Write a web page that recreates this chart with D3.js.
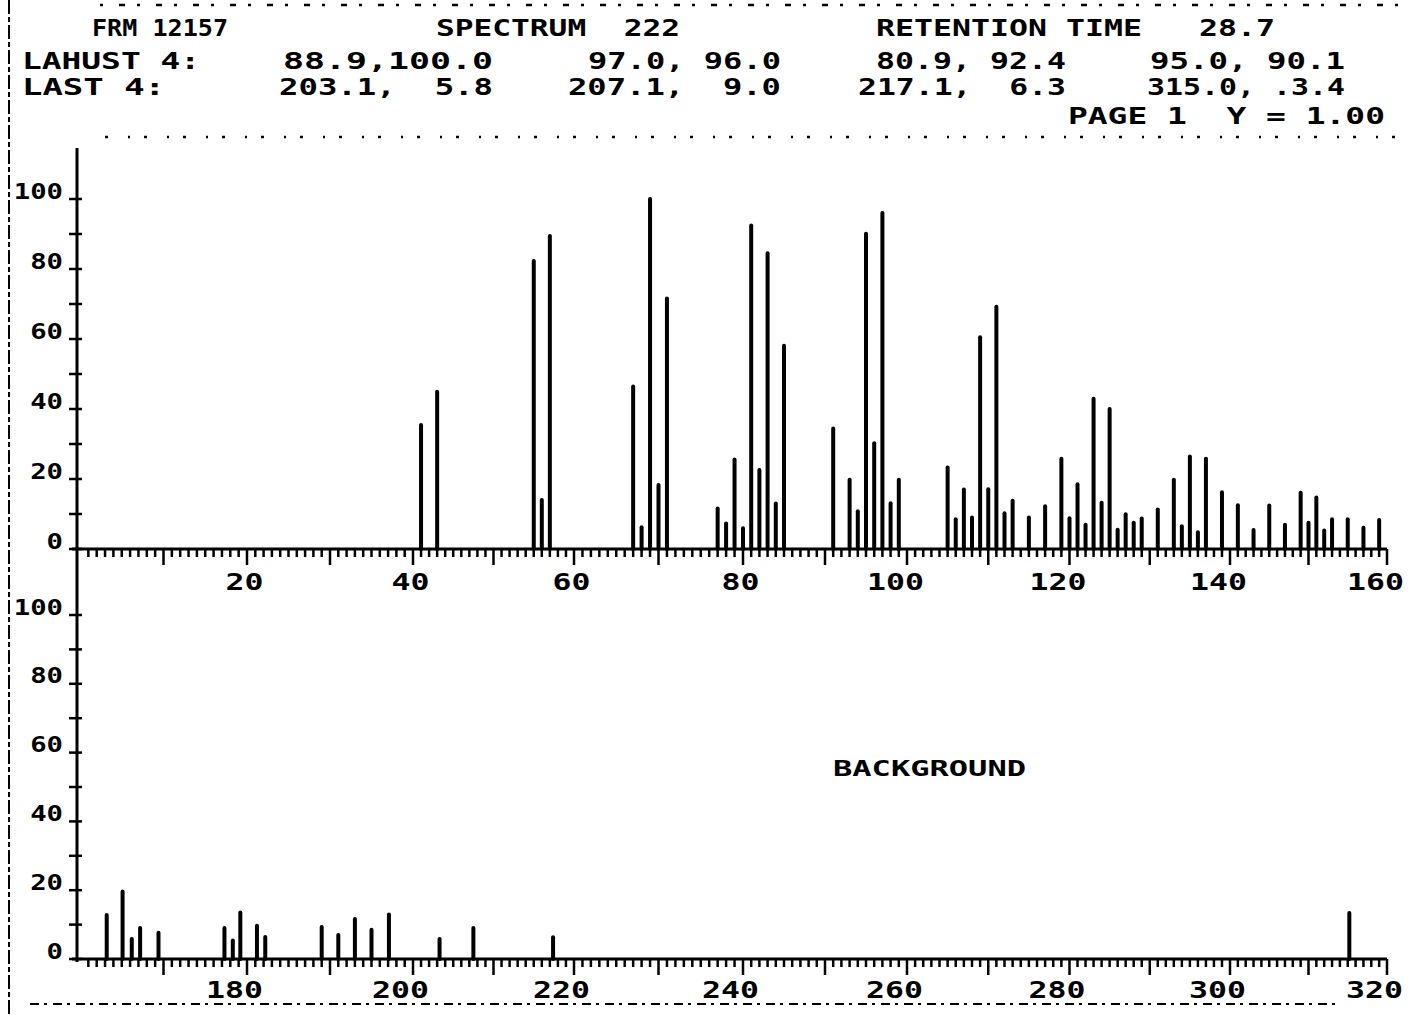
<!DOCTYPE html>
<html><head><meta charset="utf-8">
<script src="https://cdn.jsdelivr.net/npm/d3@7"></script>
<style>
html,body{margin:0;padding:0;background:#fff;}
svg{display:block;background:#fff;}
text{font-family:"DejaVu Sans Mono",monospace;font-weight:bold;fill:#000;white-space:pre;}
</style></head><body>
<svg id="c" width="1408" height="1015"></svg>
<script>
// ---------------- DATA ----------------
const topMass = [41,43,55,56,57,67,68,69,70,71,77,78,79,80,81,82,83,84,85,91,93,94,95,96,97,98,99,
  105,106,107,108,109,110,111,112,113,115,117,119,120,121,122,123,124,125,126,127,128,129,131,
  133,134,135,136,137,139,141,143,145,147,149,150,151,152,153,155,157,159];
const topIntensity = [35.4,44.9,82.3,14.0,89.4,46.4,6.2,100.0,18.3,71.6,11.6,7.3,25.6,5.9,92.4,22.6,84.5,13.0,58.1,
  34.4,19.8,10.8,90.1,30.2,96.0,13.1,19.8,23.3,8.5,17.0,9.0,60.5,17.1,69.2,10.2,13.8,9.0,12.2,
  25.8,8.8,18.5,6.9,42.9,13.2,40.0,5.5,9.9,7.5,8.7,11.3,19.8,6.5,26.4,4.8,25.8,16.2,12.5,5.4,12.4,6.9,
  16.1,7.5,14.7,5.3,8.5,8.5,6.1,8.3];
const bottomMass = [163.2,165.1,166.2,167.2,169.4,177.3,178.3,179.2,181.2,182.2,189.0,191.0,193.0,195.0,197.1,203.3,207.5,217.4,315.2];
const bottomIntensity = [12.8,19.6,5.8,9.0,7.6,9.0,5.4,13.5,9.7,6.4,9.3,7.0,11.6,8.5,12.9,5.8,9.0,6.3,13.4];

const topXTicks = [20,40,60,80,100,120,140,160];
const bottomXTicks = [180,200,220,240,260,280,300,320];
const yTickLabels = [0,20,40,60,80,100];

const headerRow1 = ["FRM 12157", "SPECTRUM  222", "RETENTION TIME   28.7"];
const largestLabel = "LAHUST 4:";
const largestPairs = ["88.9,100.0", "97.0, 96.0", "80.9, 92.4", "95.0, 90.1"];
const lastLabel = "LAST 4:";
const lastPairs = ["203.1,  5.8", "207.1,  9.0", "217.1,  6.3", "315.0, .3.4"];
const pageText = "PAGE 1  Y = 1.00";
const backgroundText = "BACKGROUND";

// ---------------- LAYOUT ----------------
const svg = d3.select("#c");
const axisX = 77;
const xRange = [80, 247, 413, 574, 743, 907, 1069.5, 1230, 1387];
const xTop = d3.scaleLinear().domain(d3.range(0, 161, 20)).range(xRange);
const xBot = d3.scaleLinear().domain(d3.range(160, 321, 20)).range(xRange);
const yTop = d3.scaleLinear().domain([0, 100]).range([549, 199]);
const yBot = d3.scaleLinear().domain([0, 100]).range([959, 615]);

// artifacts / frame
svg.append("line").attr("x1",9).attr("x2",9).attr("y1",0).attr("y2",1015)
  .attr("stroke","#000").attr("stroke-width",2).attr("stroke-dasharray","14,3,5,3");
svg.append("line").attr("x1",100).attr("x2",1405).attr("y1",5).attr("y2",5)
  .attr("stroke","#000").attr("stroke-width",2.5).attr("stroke-dasharray","3,16,6,12");
svg.append("line").attr("x1",105).attr("x2",1400).attr("y1",137).attr("y2",137)
  .attr("stroke","#000").attr("stroke-width",2.5).attr("stroke-dasharray","3,20,2,14");
svg.append("line").attr("x1",30).attr("x2",1340).attr("y1",1004).attr("y2",1004)
  .attr("stroke","#000").attr("stroke-width",2).attr("stroke-dasharray","9,5,3,6");

// header
function htext(str, x, y, w, size) {
  svg.append("text").attr("x", x).attr("y", y).attr("xml:space","preserve")
    .attr("font-size", size || 23).attr("textLength", w).attr("lengthAdjust","spacingAndGlyphs").text(str);
}
const row1Layout = [[92,36,136],[436,36,244],[876,36,399]];
headerRow1.forEach((s,i)=>htext(s, ...row1Layout[i]));
htext(largestLabel, 22, 69, 178);
const row2Layout = [[283,210],[588,193],[876,190],[1150,195]];
largestPairs.forEach((s,i)=>htext(s, row2Layout[i][0], 69, row2Layout[i][1]));
htext(lastLabel, 22, 95, 143);
const row3Layout = [[279,214],[568,213],[858,208],[1147,198]];
lastPairs.forEach((s,i)=>htext(s, row3Layout[i][0], 95, row3Layout[i][1]));
htext(pageText, 1068, 124, 317);
htext(backgroundText, 833, 776, 193, 21);

// y axis line (shared)
svg.append("line").attr("x1",axisX).attr("x2",axisX).attr("y1",148).attr("y2",962)
  .attr("stroke","#000").attr("stroke-width",3);

function panel(x, y, masses, ints, xLabels, minorTicks, labelDy, xLabOff) {
  const g = svg.append("g");
  // y ticks every 10
  g.selectAll("line.yt").data(d3.range(0, 101, 10)).join("line")
    .attr("x1", axisX - 8).attr("x2", axisX + 5)
    .attr("y1", d => y(d)).attr("y2", d => y(d))
    .attr("stroke","#000").attr("stroke-width",2.5);
  // y labels
  const ya = g.append("g").attr("transform", `translate(${axisX},0)`)
    .call(d3.axisLeft(y).tickValues(yTickLabels).tickSize(0).tickFormat(d3.format("d")));
  ya.select(".domain").remove();
  ya.selectAll("text").attr("x", -14/1.3).attr("dy", 0).attr("y", -1)
    .attr("transform","scale(1.3,1)").attr("font-size",21)
    .attr("font-family","DejaVu Sans Mono").attr("font-weight","bold").attr("fill","#000");
  // baseline
  const base = y(0);
  g.append("line").attr("x1", axisX - 5).attr("x2", xRange[xRange.length-1])
    .attr("y1", base).attr("y2", base).attr("stroke","#000").attr("stroke-width",3);
  // minor / major x ticks
  g.selectAll("line.xt").data(minorTicks).join("line")
    .attr("x1", d => x(d)).attr("x2", d => x(d))
    .attr("y1", base).attr("y2", d => base + (Math.round(d) % 10 === 0 ? 16 : 8))
    .attr("stroke","#000").attr("stroke-width",2.5);
  // x labels
  const xa = g.append("g").attr("transform", `translate(0,${base})`)
    .call(d3.axisBottom(x).tickValues(xLabels).tickSize(0).tickFormat(d3.format("d")));
  xa.select(".domain").remove();
  xa.selectAll("text")
    .attr("x", d => (String(d).length === 3 ? xLabOff : -3) / 1.37)
    .attr("y", labelDy).attr("dy", 0)
    .attr("transform","scale(1.37,1)").attr("font-size",23)
    .attr("font-family","DejaVu Sans Mono").attr("font-weight","bold").attr("fill","#000");
  // bars
  g.selectAll("line.bar").data(masses.map((m,i)=>({m, v: ints[i]}))).join("line")
    .attr("x1", d => x(d.m)).attr("x2", d => x(d.m))
    .attr("y1", base).attr("y2", d => y(d.v))
    .attr("stroke","#000").attr("stroke-width",4).attr("stroke-linecap","round");
}

panel(xTop, yTop, topMass, topIntensity, topXTicks, d3.range(1, 161), 41, -12);
panel(xBot, yBot, bottomMass, bottomIntensity, bottomXTicks, d3.range(161, 321), 39, -13);
</script>
</body></html>
